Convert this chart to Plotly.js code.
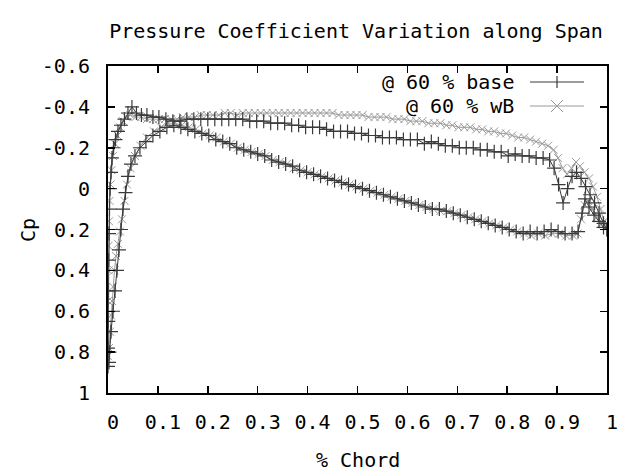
<!DOCTYPE html>
<html>
<head>
<meta charset="utf-8">
<script src="https://cdn.plot.ly/plotly-3.0.1.min.js"></script>
<style>html,body{margin:0;padding:0;background:#fff;}#chart{width:617px;height:471px;}</style>
</head>
<body>
<div id="chart"></div>
<script>
// ---- data ----
const chartTitle = "Pressure Coefficient Variation along Span";
const xTitle = "% Chord";
const yTitle = "Cp";
const seriesNames = ["@ 60 % base", "@ 60 % wB"];

const xTickVals = [0, 0.1, 0.2, 0.3, 0.4, 0.5, 0.6, 0.7, 0.8, 0.9, 1];
const xTickText = ["0", "0.1", "0.2", "0.3", "0.4", "0.5", "0.6", "0.7", "0.8", "0.9", "1"];
const yTickVals = [-0.6, -0.4, -0.2, 0, 0.2, 0.4, 0.6, 0.8, 1];
const yTickText = ["-0.6", "-0.4", "-0.2", "0", "0.2", "0.4", "0.6", "0.8", "1"];

// base: upper surface, trailing edge -> leading edge
const baseUpperX = [
  1.000, 0.993, 0.984, 0.975, 0.966, 0.957, 0.948, 0.939, 0.930, 0.921,
  0.912, 0.903, 0.894, 0.885, 0.872, 0.858, 0.844, 0.830, 0.816, 0.802,
  0.788, 0.774, 0.760, 0.746, 0.732, 0.718, 0.704, 0.690, 0.676, 0.662,
  0.648, 0.634, 0.620, 0.606, 0.592, 0.578, 0.564, 0.550, 0.536, 0.522,
  0.508, 0.494, 0.480, 0.466, 0.452, 0.438, 0.424, 0.410, 0.396, 0.382,
  0.368, 0.354, 0.340, 0.326, 0.312, 0.298, 0.284, 0.270, 0.256, 0.242,
  0.228, 0.214, 0.200, 0.186, 0.172, 0.158, 0.144, 0.130, 0.116, 0.102,
  0.090, 0.078, 0.067, 0.057, 0.048, 0.040, 0.033, 0.026, 0.020, 0.015,
  0.011, 0.008, 0.006, 0.004, 0.003, 0.002, 0.0015, 0.001, 0.0005, 0.000,
  0.000, 0.002
];
const baseUpperCp = [
  0.20, 0.17, 0.12, 0.07, 0.03, -0.01, -0.05, -0.08, -0.06, 0.00,
  0.07, -0.02, -0.10, -0.14, -0.15, -0.15, -0.16, -0.16, -0.17, -0.16,
  -0.18, -0.18, -0.19, -0.19, -0.20, -0.20, -0.20, -0.21, -0.21, -0.22,
  -0.23, -0.22, -0.24, -0.24, -0.24, -0.25, -0.25, -0.25, -0.26, -0.26,
  -0.27, -0.27, -0.28, -0.28, -0.28, -0.29, -0.30, -0.30, -0.30, -0.31,
  -0.31, -0.32, -0.32, -0.32, -0.33, -0.33, -0.33, -0.34, -0.34, -0.34,
  -0.34, -0.34, -0.34, -0.34, -0.34, -0.34, -0.33, -0.33, -0.34, -0.35,
  -0.35, -0.36, -0.36, -0.37, -0.40, -0.37, -0.34, -0.31, -0.28, -0.24,
  -0.20, -0.15, -0.08, 0.00, 0.10, 0.22, 0.35, 0.50, 0.65, 0.78,
  0.87, 0.85
];
// base: lower surface, leading edge -> trailing edge
const baseLowerX = [
  0.003, 0.006, 0.010, 0.014, 0.018, 0.022, 0.026, 0.030, 0.035, 0.040,
  0.046, 0.054, 0.064, 0.076, 0.090, 0.104, 0.118, 0.132, 0.146, 0.160,
  0.174, 0.188, 0.202, 0.216, 0.230, 0.244, 0.258, 0.272, 0.286, 0.300,
  0.314, 0.328, 0.342, 0.356, 0.370, 0.384, 0.398, 0.412, 0.426, 0.440,
  0.454, 0.468, 0.482, 0.496, 0.510, 0.524, 0.538, 0.552, 0.566, 0.580,
  0.594, 0.608, 0.622, 0.636, 0.650, 0.664, 0.678, 0.692, 0.706, 0.720,
  0.734, 0.748, 0.762, 0.776, 0.790, 0.804, 0.818, 0.832, 0.846, 0.860,
  0.874, 0.888, 0.902, 0.916, 0.930, 0.942, 0.950, 0.956, 0.964, 0.974,
  0.984, 0.993, 1.000
];
const baseLowerCp = [
  0.80, 0.70, 0.60, 0.50, 0.40, 0.30, 0.20, 0.10, 0.02, -0.06,
  -0.12, -0.16, -0.20, -0.23, -0.26, -0.28, -0.30, -0.31, -0.30, -0.29,
  -0.28, -0.27, -0.26, -0.24, -0.23, -0.22, -0.20, -0.19, -0.18, -0.17,
  -0.16, -0.14, -0.13, -0.12, -0.11, -0.09, -0.08, -0.07, -0.06, -0.05,
  -0.04, -0.03, -0.02, -0.01, 0.00, 0.01, 0.02, 0.03, 0.04, 0.05,
  0.06, 0.07, 0.08, 0.09, 0.10, 0.10, 0.11, 0.12, 0.13, 0.14,
  0.15, 0.16, 0.17, 0.18, 0.19, 0.20, 0.21, 0.22, 0.21, 0.22,
  0.21, 0.20, 0.21, 0.22, 0.22, 0.21, 0.12, 0.05, 0.09, 0.13,
  0.16, 0.19, 0.20
];

// wB: upper surface, trailing edge -> leading edge
const wbUpperX = [
  1.000, 0.994, 0.987, 0.980, 0.972, 0.964, 0.955, 0.946, 0.938, 0.929,
  0.920, 0.911, 0.902, 0.893, 0.882, 0.870, 0.858, 0.846, 0.834, 0.822,
  0.810, 0.798, 0.786, 0.774, 0.762, 0.750, 0.738, 0.726, 0.714, 0.702,
  0.690, 0.678, 0.666, 0.654, 0.642, 0.630, 0.618, 0.606, 0.594, 0.582,
  0.570, 0.558, 0.546, 0.534, 0.522, 0.510, 0.498, 0.486, 0.474, 0.462,
  0.450, 0.438, 0.426, 0.414, 0.402, 0.390, 0.378, 0.366, 0.354, 0.342,
  0.330, 0.318, 0.306, 0.294, 0.282, 0.270, 0.258, 0.246, 0.234, 0.222,
  0.210, 0.198, 0.186, 0.174, 0.162, 0.150, 0.138, 0.126, 0.114, 0.102,
  0.090, 0.078, 0.066, 0.055, 0.045, 0.037, 0.030, 0.024, 0.019, 0.014,
  0.010, 0.007, 0.005, 0.003, 0.002, 0.001, 0.001, 0.000, 0.000, 0.000
];
const wbUpperCp = [
  0.18, 0.16, 0.10, 0.04, -0.01, -0.05, -0.08, -0.11, -0.13, -0.10,
  -0.07, -0.10, -0.15, -0.19, -0.21, -0.22, -0.23, -0.24, -0.25, -0.25,
  -0.26, -0.27, -0.27, -0.28, -0.28, -0.29, -0.29, -0.30, -0.30, -0.30,
  -0.31, -0.31, -0.32, -0.32, -0.32, -0.33, -0.33, -0.33, -0.34, -0.34,
  -0.34, -0.35, -0.35, -0.35, -0.35, -0.36, -0.36, -0.36, -0.36, -0.36,
  -0.37, -0.37, -0.37, -0.37, -0.37, -0.37, -0.37, -0.37, -0.37, -0.37,
  -0.37, -0.37, -0.37, -0.37, -0.37, -0.37, -0.36, -0.37, -0.37, -0.36,
  -0.36, -0.36, -0.36, -0.35, -0.35, -0.35, -0.34, -0.34, -0.34, -0.34,
  -0.34, -0.34, -0.35, -0.35, -0.36, -0.35, -0.33, -0.30, -0.26, -0.22,
  -0.16, -0.09, -0.02, 0.06, 0.16, 0.28, 0.40, 0.55, 0.70, 0.82
];
// wB: lower surface, leading edge -> trailing edge
const wbLowerX = [
  0.002, 0.004, 0.006, 0.008, 0.010, 0.013, 0.016, 0.020, 0.024, 0.028,
  0.033, 0.038, 0.045, 0.054, 0.065, 0.078, 0.092, 0.106, 0.120, 0.134,
  0.148, 0.162, 0.176, 0.190, 0.204, 0.218, 0.232, 0.246, 0.260, 0.274,
  0.288, 0.302, 0.316, 0.330, 0.344, 0.358, 0.372, 0.386, 0.400, 0.414,
  0.428, 0.442, 0.456, 0.470, 0.484, 0.498, 0.512, 0.526, 0.540, 0.554,
  0.568, 0.582, 0.596, 0.610, 0.624, 0.638, 0.652, 0.666, 0.680, 0.694,
  0.708, 0.722, 0.736, 0.750, 0.764, 0.778, 0.792, 0.806, 0.820, 0.834,
  0.848, 0.862, 0.876, 0.890, 0.904, 0.918, 0.932, 0.941, 0.948, 0.955,
  0.962, 0.970, 0.980, 0.990, 1.000
];
const wbLowerCp = [
  0.78, 0.70, 0.62, 0.55, 0.48, 0.40, 0.33, 0.27, 0.21, 0.15,
  0.06, -0.02, -0.10, -0.16, -0.21, -0.25, -0.28, -0.30, -0.32, -0.32,
  -0.31, -0.30, -0.29, -0.27, -0.26, -0.25, -0.23, -0.22, -0.20, -0.19,
  -0.18, -0.17, -0.16, -0.14, -0.13, -0.12, -0.10, -0.09, -0.08, -0.07,
  -0.06, -0.05, -0.04, -0.03, -0.02, -0.01, 0.00, 0.01, 0.02, 0.03,
  0.04, 0.05, 0.06, 0.07, 0.08, 0.09, 0.10, 0.11, 0.11, 0.12,
  0.13, 0.14, 0.15, 0.16, 0.17, 0.18, 0.19, 0.20, 0.21, 0.22,
  0.23, 0.22, 0.23, 0.22, 0.22, 0.23, 0.23, 0.22, 0.15, 0.08,
  0.06, 0.10, 0.14, 0.17, 0.18
];

// ---- styling ----
const FONT = "DejaVu Sans Mono, monospace";
const baseColor = "#3a3a3a";
const wbColor = "#9a9a9a";

const traces = [
  {
    name: seriesNames[1],
    x: wbUpperX.concat(wbLowerX),
    y: wbUpperCp.concat(wbLowerCp),
    type: "scatter", mode: "lines+markers",
    line: {color: wbColor, width: 1},
    marker: {symbol: "x-thin-open", size: 8, color: wbColor, line: {color: wbColor, width: 1}},
    showlegend: false, hoverinfo: "skip"
  },
  {
    name: seriesNames[0],
    x: baseUpperX.concat(baseLowerX),
    y: baseUpperCp.concat(baseLowerCp),
    type: "scatter", mode: "lines+markers",
    line: {color: baseColor, width: 1},
    marker: {symbol: "cross-thin-open", size: 10, color: baseColor, line: {color: baseColor, width: 1.2}},
    showlegend: false, hoverinfo: "skip"
  }
];

// legend drawn inside the plot (gnuplot style: text then sample)
const L = 108, T = 66, W = 499, H = 327;
function px2x(p){ return (p - L) / W; }
function px2y(p){ return (T + H - p) / H; }
const legRows = [82, 106];
const lineX0 = 530, lineX1 = 584, markX = 557;
const shapes = [];
const annotations = [];
[[seriesNames[0], baseColor, "plus"], [seriesNames[1], wbColor, "x"]].forEach((r, i) => {
  const py = legRows[i];
  annotations.push({
    xref: "paper", yref: "paper", x: px2x(516), y: px2y(py),
    xanchor: "right", yanchor: "middle", showarrow: false,
    text: r[0], font: {family: FONT, size: 20, color: "#000"}
  });
  shapes.push({type: "line", xref: "paper", yref: "paper",
    x0: px2x(lineX0), x1: px2x(lineX1), y0: px2y(py), y1: px2y(py),
    line: {color: r[1], width: 1}});
  if (r[2] === "plus") {
    shapes.push({type: "line", xref: "paper", yref: "paper",
      x0: px2x(markX), x1: px2x(markX), y0: px2y(py - 6), y1: px2y(py + 6),
      line: {color: r[1], width: 1.2}});
  } else {
    shapes.push({type: "line", xref: "paper", yref: "paper",
      x0: px2x(markX - 6), x1: px2x(markX + 6), y0: px2y(py - 6), y1: px2y(py + 6),
      line: {color: r[1], width: 1}});
    shapes.push({type: "line", xref: "paper", yref: "paper",
      x0: px2x(markX - 6), x1: px2x(markX + 6), y0: px2y(py + 6), y1: px2y(py - 6),
      line: {color: r[1], width: 1}});
  }
});
annotations.push({
  xref: "paper", yref: "paper", x: px2x(28), y: px2y(230),
  xanchor: "center", yanchor: "middle", showarrow: false, textangle: -90,
  text: yTitle, font: {family: FONT, size: 20, color: "#000"}
});
annotations.push({
  xref: "paper", yref: "paper", x: px2x(358), y: px2y(460),
  xanchor: "center", yanchor: "middle", showarrow: false,
  text: xTitle, font: {family: FONT, size: 20, color: "#000"}
});

const layout = {
  width: 617, height: 471,
  margin: {l: L, r: 617 - L - W, t: T, b: 471 - T - H, pad: 0},
  paper_bgcolor: "#fff", plot_bgcolor: "#fff",
  font: {family: FONT, size: 20, color: "#000"},
  title: {text: chartTitle, font: {family: FONT, size: 20, color: "#000"},
          x: 356 / 617, xanchor: "center", xref: "container",
          y: 1 - 31 / 471, yanchor: "middle", yref: "container"},
  showlegend: false,
  xaxis: {
    range: [0, 1], tickvals: xTickVals, ticktext: xTickText,
    showgrid: false, zeroline: false, showline: true, linecolor: "#000", linewidth: 2,
    mirror: "ticks", ticks: "inside", ticklen: 7, tickwidth: 1.5, tickcolor: "#000",
    ticklabelstandoff: 10, ticklabelshift: 5, ticklabeloverflow: "allow",
    tickfont: {family: FONT, size: 20, color: "#000"}
  },
  yaxis: {
    range: [1, -0.6], tickvals: yTickVals, ticktext: yTickText,
    showgrid: false, zeroline: false, showline: true, linecolor: "#000", linewidth: 2,
    mirror: "ticks", ticks: "inside", ticklen: 7, tickwidth: 1.5, tickcolor: "#000",
    ticklabelstandoff: 12,
    tickfont: {family: FONT, size: 20, color: "#000"}
  },
  shapes: shapes,
  annotations: annotations
};

Plotly.newPlot("chart", traces, layout, {displayModeBar: false, staticPlot: true});
</script>
</body>
</html>
